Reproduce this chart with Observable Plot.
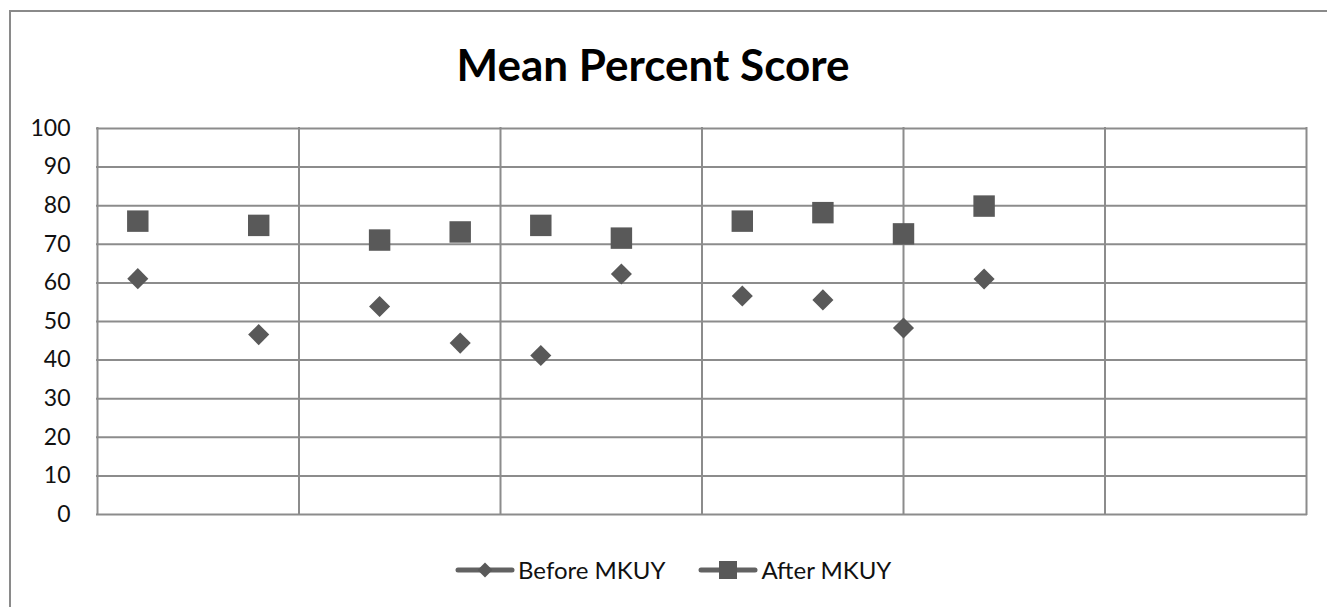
<!DOCTYPE html>
<html><head><meta charset="utf-8">
<script src="https://cdn.jsdelivr.net/npm/d3@7"></script>
<script src="https://cdn.jsdelivr.net/npm/@observablehq/plot@0.6"></script>
<style>
body{margin:0;background:#fff;font-family:Lato,sans-serif;}
#wrap{position:relative;width:1327px;height:607px;overflow:hidden;background:#fff}
#frame{position:absolute;left:9px;top:10px;width:1400px;height:700px;border:2px solid #8a8a8a;box-sizing:border-box}
#title{position:absolute;left:0;width:1306px;top:42px;text-align:center;font-weight:700;font-size:44px;line-height:1;color:#000}
#chart{position:absolute;left:0;top:108px}
#legend{position:absolute;left:455px;top:558px;display:flex;align-items:center;font-size:24px;color:#111;line-height:1}
#legend .item{display:flex;align-items:center}
#legend svg{margin-right:3px}
</style>
</head><body>
<div id="wrap">
<div id="frame"></div>
<div id="title">Mean Percent Score</div>
<div id="chart"></div>
<div id="legend"></div>
</div>
<script>
const xPos = [1, 4, 7, 9, 11, 13, 16, 18, 20, 22];
const beforeMKUY = [61.1, 46.6, 53.9, 44.4, 41.2, 62.3, 56.6, 55.6, 48.3, 61.0];
const afterMKUY = [76.0, 74.9, 71.1, 73.2, 74.9, 71.6, 76.0, 78.2, 72.7, 79.9];
const yTicks = [0, 10, 20, 30, 40, 50, 60, 70, 80, 90, 100];
const xGrid = [0, 5, 10, 15, 20, 25, 30];
const seriesNames = ["Before MKUY", "After MKUY"];

const markColor = "#595959";
const gridColor = "#8c8c8c";

const beforeData = xPos.map((x, i) => ({x, y: beforeMKUY[i]}));
const afterData = xPos.map((x, i) => ({x, y: afterMKUY[i]}));

const chart = Plot.plot({
  width: 1327,
  height: 422,
  marginLeft: 97,
  marginRight: 21,
  marginTop: 20,
  marginBottom: 16,
  style: {fontFamily: "Lato, sans-serif", fontSize: "23px", color: "#111", background: "transparent", overflow: "visible"},
  x: {domain: [0, 30], axis: null},
  y: {domain: [0, 100], ticks: yTicks, tickSize: 0, tickPadding: 27, label: null, tickFormat: d => String(d)},
  marks: [
    Plot.ruleY(yTicks, {stroke: gridColor, strokeWidth: 2, strokeLinecap: "square"}),
    Plot.ruleX(xGrid, {stroke: gridColor, strokeWidth: 2, strokeLinecap: "square"}),
    Plot.dot(beforeData, {x: "x", y: "y", symbol: "diamond2", r: 9.5, fill: markColor, stroke: "none"}),
    Plot.dot(afterData, {x: "x", y: "y", symbol: "square", r: 12.1, fill: markColor, stroke: "none"})
  ]
});
document.getElementById("chart").appendChild(chart);

// Legend
const legend = document.getElementById("legend");
const symbols = [
  '<path d="M30,2.5 L37.5,10 L30,17.5 L22.5,10 Z" fill="#595959"/>',
  '<rect x="21" y="1" width="18" height="18" fill="#595959"/>'
];
seriesNames.forEach((name, i) => {
  const item = document.createElement("div");
  item.className = "item";
  if (i > 0) item.style.marginLeft = "33px";
  item.innerHTML = '<svg width="60" height="20" viewBox="0 0 60 20"><line x1="3" y1="10" x2="57" y2="10" stroke="#626262" stroke-width="5" stroke-linecap="round"/>' + symbols[i] + '</svg><span>' + name + '</span>';
  legend.appendChild(item);
});
</script>
</body></html>
